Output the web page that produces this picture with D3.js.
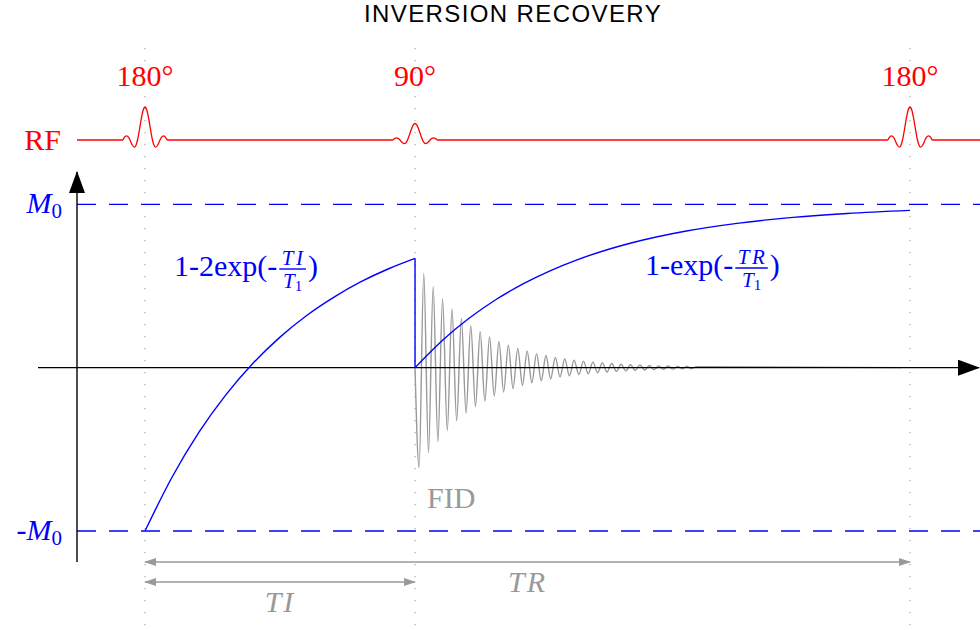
<!DOCTYPE html>
<html>
<head>
<meta charset="utf-8">
<script src="https://cdn.jsdelivr.net/npm/d3@7"></script>
<style>
  body { margin: 0; background: #fff; }
  svg { display: block; }
  .tex { font-family: "Liberation Serif", "Times New Roman", serif; }
</style>
</head>
<body>
<div id="chart"></div>
<script>
// times are in units of TI, magnetisation in units of M0
var TI = 1, TR = 2.833;

var pulseTimes  = [0, TI, TR];
var pulseAmps   = [1, 0.5, 1];
var pulseLabels = ["180°", "90°", "180°"];

// RF pulse shape (u counted in lobes, value relative to peak)
var pulseU = [-3, -2.7, -2.46, -2.2, -2, -1.7, -1.43, -1.2, -1, -0.75, -0.5, -0.25, 0,
              0.25, 0.5, 0.75, 1, 1.2, 1.43, 1.7, 2, 2.2, 2.46, 2.7, 3];
var pulseV = [0, 0.095, 0.128, 0.085, 0, -0.152, -0.217, -0.156, 0, 0.300, 0.637, 0.900, 1,
              0.900, 0.637, 0.300, 0, -0.156, -0.217, -0.152, 0, 0.085, 0.128, 0.095, 0];
var pulseLobe = 0.0278;

// inversion: 180 pulse -> 90 pulse
var invT = [0, 0.1, 0.2, 0.3, 0.4, 0.5, 0.6, 0.7, 0.8, 0.9, 1.0];
var invM = [-1, -0.671, -0.395, -0.165, 0.027, 0.187, 0.321, 0.432, 0.526, 0.604, 0.669];

// recovery after the 90 pulse
var recT = [1.0, 1.1, 1.2, 1.3, 1.4, 1.5, 1.6, 1.8, 2.0, 2.2, 2.4, 2.6, 2.833];
var recM = [0, 0.165, 0.302, 0.417, 0.513, 0.593, 0.660, 0.763, 0.835, 0.885, 0.920, 0.944, 0.963];

// FID: size of each half-swing, first one goes negative
var fidAmps = [0.613, 0.577, 0.521, 0.495, 0.452, 0.421, 0.385, 0.360, 0.325, 0.301,
               0.278, 0.257, 0.238, 0.220, 0.204, 0.188, 0.174, 0.161, 0.149, 0.138,
               0.128, 0.118, 0.109, 0.101, 0.093, 0.086, 0.080, 0.074, 0.068, 0.063,
               0.058, 0.054, 0.050, 0.046, 0.043, 0.040, 0.037, 0.034, 0.031, 0.029,
               0.027, 0.025, 0.023, 0.021, 0.020, 0.018, 0.017, 0.016, 0.014, 0.013,
               0.012, 0.011, 0.010, 0.010, 0.009, 0.008, 0.007, 0.007, 0.006, 0.006];
var fidFirst = 0.015, fidHalf = 0.0174;

var width = 980, height = 630;
var blue = "#0000ff", red = "#ff0000", gray = "#999999";

var svg = d3.select("#chart").append("svg")
    .attr("width", width).attr("height", height);

var x = d3.scaleLinear().domain([0, TR]).range([145, 910]);
var y = d3.scaleLinear().domain([-1, 1]).range([531, 204.3]);
var rfY = d3.scaleLinear().domain([0, 1]).range([140, 107]);

var axisX = 77;
var trY = 562, tiY = 582;

var defs = svg.append("defs");
defs.append("marker").attr("id", "blackHead")
    .attr("viewBox", "0 0 22 16").attr("refX", 21).attr("refY", 8)
    .attr("markerWidth", 22).attr("markerHeight", 16)
    .attr("markerUnits", "userSpaceOnUse").attr("orient", "auto")
  .append("path").attr("d", "M0,0 L22,8 L0,16 Z").attr("fill", "#000");
defs.append("marker").attr("id", "grayHead")
    .attr("viewBox", "0 0 12 8").attr("refX", 11).attr("refY", 4)
    .attr("markerWidth", 12).attr("markerHeight", 8)
    .attr("markerUnits", "userSpaceOnUse").attr("orient", "auto-start-reverse")
  .append("path").attr("d", "M0,0 L12,4 L0,8 Z").attr("fill", gray);

// title
svg.append("text")
    .attr("x", 513).attr("y", 22)
    .attr("text-anchor", "middle")
    .attr("font-family", "Liberation Sans, Arial, sans-serif")
    .attr("font-size", 24).attr("letter-spacing", 1.4)
    .text("INVERSION RECOVERY");

// dotted guides at each pulse
svg.append("g").selectAll("line").data(pulseTimes).enter().append("line")
    .attr("x1", function(d){ return x(d); }).attr("x2", function(d){ return x(d); })
    .attr("y1", 48).attr("y2", height)
    .attr("stroke", "#aaa").attr("stroke-width", 1.2)
    .attr("stroke-dasharray", "1.2 10.8");

// +M0 / -M0 dashed
svg.append("g").selectAll("line").data([1, -1]).enter().append("line")
    .attr("x1", axisX).attr("x2", width)
    .attr("y1", function(d){ return y(d); }).attr("y2", function(d){ return y(d); })
    .attr("stroke", blue).attr("stroke-width", 1.3)
    .attr("stroke-dasharray", "19 13");

// FID
var fidPts = [[TI, 0]];
fidAmps.forEach(function(a, i){
    fidPts.push([TI + fidFirst + i * fidHalf, i % 2 == 0 ? -a : a]);
});
fidPts.push([TR - 0.03, 0]);
var line = d3.line().x(function(d){ return x(d[0]); }).y(function(d){ return y(d[1]); })
    .curve(d3.curveMonotoneX);
svg.append("path").attr("d", line(fidPts))
    .attr("fill", "none").attr("stroke", gray).attr("stroke-width", 1.4);

// axes
svg.append("line").attr("x1", 38).attr("x2", 979).attr("y1", y(0)).attr("y2", y(0))
    .attr("stroke", "#000").attr("stroke-width", 1.4).attr("marker-end", "url(#blackHead)");
svg.append("line").attr("x1", axisX).attr("x2", axisX).attr("y1", trY).attr("y2", 172)
    .attr("stroke", "#000").attr("stroke-width", 1.4).attr("marker-end", "url(#blackHead)");

// magnetisation
var invPts = invT.map(function(t, i){ return [t, invM[i]]; });
var recPts = recT.map(function(t, i){ return [t, recM[i]]; });
svg.append("path").attr("d", line(invPts))
    .attr("fill", "none").attr("stroke", blue).attr("stroke-width", 1.4);
svg.append("line").attr("x1", x(TI)).attr("x2", x(TI))
    .attr("y1", y(invM[invM.length - 1])).attr("y2", y(0))
    .attr("stroke", blue).attr("stroke-width", 1.4);
svg.append("path").attr("d", line(recPts))
    .attr("fill", "none").attr("stroke", blue).attr("stroke-width", 1.4);

// RF line with pulses
var rfPts = [[x.invert(axisX), 0]];
pulseTimes.forEach(function(pt, k){
    pulseU.forEach(function(u, i){
        rfPts.push([pt + u * pulseLobe, pulseAmps[k] * pulseV[i]]);
    });
});
rfPts.push([x.invert(width), 0]);
var rfLine = d3.line().x(function(d){ return x(d[0]); }).y(function(d){ return rfY(d[1]); })
    .curve(d3.curveMonotoneX);
svg.append("path").attr("d", rfLine(rfPts))
    .attr("fill", "none").attr("stroke", red).attr("stroke-width", 1.3);

// TR / TI spans
svg.append("line").attr("x1", x(0)).attr("x2", x(TR)).attr("y1", trY).attr("y2", trY)
    .attr("stroke", gray).attr("stroke-width", 1.5)
    .attr("marker-start", "url(#grayHead)").attr("marker-end", "url(#grayHead)");
svg.append("line").attr("x1", x(0)).attr("x2", x(TI)).attr("y1", tiY).attr("y2", tiY)
    .attr("stroke", gray).attr("stroke-width", 1.5)
    .attr("marker-start", "url(#grayHead)").attr("marker-end", "url(#grayHead)");

// labels
var tex = svg.append("g").attr("class", "tex").attr("font-size", 30);

tex.selectAll("text.pulse").data(pulseTimes).enter().append("text")
    .attr("class", "pulse")
    .attr("x", function(d){ return x(d); }).attr("y", 86)
    .attr("text-anchor", "middle").attr("fill", red)
    .text(function(d, i){ return pulseLabels[i]; });

tex.append("text").attr("x", 61).attr("y", 150).attr("text-anchor", "end")
    .attr("fill", red).text("RF");

function mLabel(val, prefix) {
    var t = tex.append("text").attr("x", 62).attr("y", y(val) + 9)
        .attr("text-anchor", "end").attr("fill", blue);
    if (prefix) t.append("tspan").text(prefix);
    t.append("tspan").attr("font-style", "italic").text("M");
    t.append("tspan").attr("font-size", 21).attr("dy", 5).text("0");
}
mLabel(1, "");
mLabel(-1, "-");

tex.append("text").attr("x", 427).attr("y", 508).attr("fill", gray).text("FID");
tex.append("text").attr("x", (x(0) + x(TI)) / 2).attr("y", tiY + 30)
    .attr("text-anchor", "middle").attr("font-style", "italic")
    .attr("letter-spacing", 2).attr("fill", gray).text("TI");
tex.append("text").attr("x", (x(0) + x(TR)) / 2).attr("y", trY + 30)
    .attr("text-anchor", "middle").attr("font-style", "italic")
    .attr("letter-spacing", 2).attr("fill", gray).text("TR");

function fracLabel(x0, y0, pre, num, den) {
    var g = tex.append("g").attr("fill", blue);
    var t1 = g.append("text").attr("x", x0).attr("y", y0).text(pre);
    var fx = x0 + t1.node().getComputedTextLength() + 2;
    var n = g.append("text").attr("y", y0 - 11).attr("font-size", 21)
        .attr("font-style", "italic").attr("letter-spacing", 2.5).text(num);
    var d = g.append("text").attr("y", y0 + 12).attr("font-size", 21);
    d.append("tspan").attr("font-style", "italic").text(den[0]);
    d.append("tspan").attr("font-size", 15).attr("dy", 3).text(den[1]);
    var wn = n.node().getComputedTextLength(), wd = d.node().getComputedTextLength();
    var fw = Math.max(wn, wd) + 3;
    n.attr("x", fx + (fw - wn) / 2 + 1);
    d.attr("x", fx + (fw - wd) / 2);
    g.append("line").attr("x1", fx).attr("x2", fx + fw)
        .attr("y1", y0 - 7).attr("y2", y0 - 7)
        .attr("stroke", blue).attr("stroke-width", 1.4);
    g.append("text").attr("x", fx + fw + 2).attr("y", y0).text(")");
}
fracLabel(174, 276, "1-2exp(-", "TI", ["T", "1"]);
fracLabel(645, 275, "1-exp(-", "TR", ["T", "1"]);
</script>
</body>
</html>
